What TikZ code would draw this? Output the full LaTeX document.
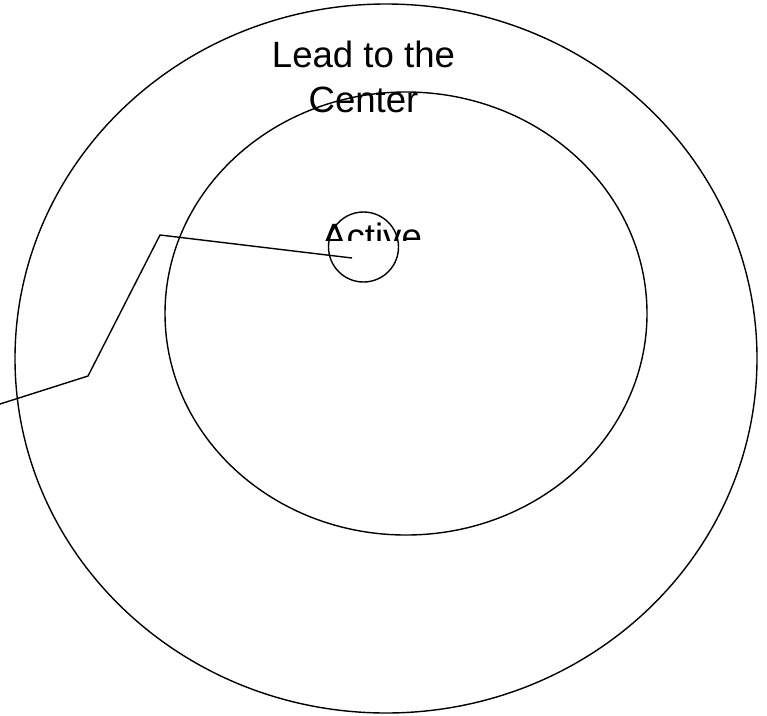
\documentclass[tikz,border=0pt]{standalone}
\usepackage{fontspec}
\setmainfont{Liberation Sans}
\tikzset{
  shapeline/.style={draw=black, line width=1.4pt},
  label/.style={inner sep=0pt, font=\fontsize{36.6}{45}\selectfont},
}
\begin{document}
\begin{tikzpicture}[x=1pt,y=-1pt]
\useasboundingbox (0,0) rectangle (767,715);
% outer and inner ellipses
\draw[shapeline] (386,358.5) ellipse [x radius=371, y radius=354.5];
\draw[shapeline] (406,313.5) ellipse [x radius=241, y radius=221.5];
% texts
\node[label, anchor=base] (lead) at (363.5,67) {Lead to the};
\node[label, anchor=base] (center) at (363.5,112) {Center};
\begin{scope}
  \clip (300,200) rectangle (440,240);
  \node[label, anchor=base west] (active) at (322,249) {Active};
\end{scope}
% small circle
\node[shapeline, circle, minimum size=70pt, inner sep=0pt] (dot) at (363.5,247) {};
% leader line
\coordinate (p0) at (0,404);
\coordinate (p1) at (88,376);
\coordinate (p2) at (160,235);
\coordinate (p3) at (352,258);
\draw[shapeline, line join=miter] (p0) -- (p1) -- (p2) -- (p3);
\end{tikzpicture}
\end{document}
